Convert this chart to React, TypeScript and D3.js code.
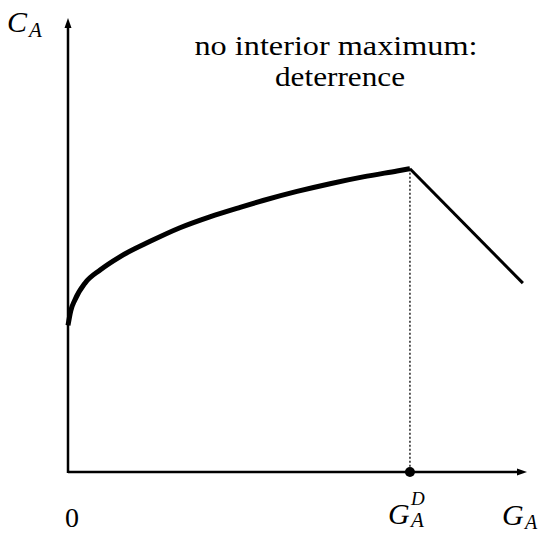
import React from 'react'
import * as d3 from 'd3'

// Data (arbitrary units 0..100)
const curveG = [0, 0.6, 1.5, 3.7, 7.0, 11.3, 17.9, 24.4, 30.9, 37.5, 42.5, 49.9, 57.1, 64.3, 71.7, 74.5]
const curveC = [32.3, 35.5, 37.9, 41.6, 44.5, 47.4, 50.8, 53.8, 56.2, 58.3, 59.8, 61.8, 63.5, 65.0, 66.3, 66.8]
const declineG = [74.5, 99.1]
const declineC = [66.8, 41.6]
const peakG = 74.5

const titleLines = ['no interior maximum:', 'deterrence']

const width = 545
const height = 533
const font = "'Liberation Serif', 'DejaVu Serif', serif"

const App = () => {
  // Scales
  const x = d3.scaleLinear().domain([0, 100]).range([68, 527])
  const y = d3.scaleLinear().domain([0, 100]).range([472, 18])

  const curvePath = d3.line<[number, number]>()
    .x(d => x(d[0]))
    .y(d => y(d[1]))
    .curve(d3.curveMonotoneX)(curveG.map((g, i) => [g, curveC[i]]))
  const declinePath = d3.line<[number, number]>()
    .x(d => x(d[0]))
    .y(d => y(d[1]))(declineG.map((g, i) => [g, declineC[i]]))

  const x0 = x(0), y0 = y(0)
  const xEnd = x(100), yEnd = y(100)
  const peakC = curveC[curveC.length - 1]

  return (
    <svg width={width} height={height} style={{ position: 'absolute', left: 0, top: 0 }}>
      <rect width={width} height={height} fill="#fff" />

      {/* axes */}
      <line x1={x0} y1={y0} x2={xEnd - 6} y2={y0} stroke="#000" strokeWidth={2.5} />
      <path d={`M${xEnd},${y0} L${xEnd - 10},${y0 - 3.5} L${xEnd - 10},${y0 + 3.5} Z`} fill="#000" />
      <line x1={x0} y1={y0 + 1} x2={x0} y2={yEnd + 6} stroke="#000" strokeWidth={2.5} />
      <path d={`M${x0},${yEnd} L${x0 - 3.5},${yEnd + 10} L${x0 + 3.5},${yEnd + 10} Z`} fill="#000" />

      {/* dotted guide */}
      <line x1={x(peakG)} y1={y(peakC)} x2={x(peakG)} y2={y0}
        stroke="#000" strokeWidth={1.3} strokeDasharray="2,2" />

      {/* curves */}
      <path d={curvePath || ''} fill="none" stroke="#000" strokeWidth={5} strokeLinejoin="round" />
      <path d={declinePath || ''} fill="none" stroke="#000" strokeWidth={3} />

      <circle cx={x(peakG)} cy={y0} r={5} fill="#000" />

      {/* title */}
      <text x={336} y={55} fontSize={28} textAnchor="middle" style={{ fontFamily: font }}
        textLength={283} lengthAdjust="spacingAndGlyphs">{titleLines[0]}</text>
      <text x={340} y={86} fontSize={28} textAnchor="middle" style={{ fontFamily: font }}
        textLength={130} lengthAdjust="spacingAndGlyphs">{titleLines[1]}</text>

      {/* axis labels */}
      <g style={{ fontFamily: font, fontStyle: 'italic' }}>
        <text x={7} y={32} fontSize={30}>C</text>
        <text x={29} y={37} fontSize={21}>A</text>

        <text x={388} y={524} fontSize={30}>G</text>
        <text x={411} y={505} fontSize={19}>D</text>
        <text x={411} y={527} fontSize={21}>A</text>

        <text x={502} y={525} fontSize={30}>G</text>
        <text x={525} y={529} fontSize={20}>A</text>
      </g>
      <text x={x0 + 4} y={527} fontSize={28} textAnchor="middle" style={{ fontFamily: font }}>0</text>
    </svg>
  )
}

export default App
